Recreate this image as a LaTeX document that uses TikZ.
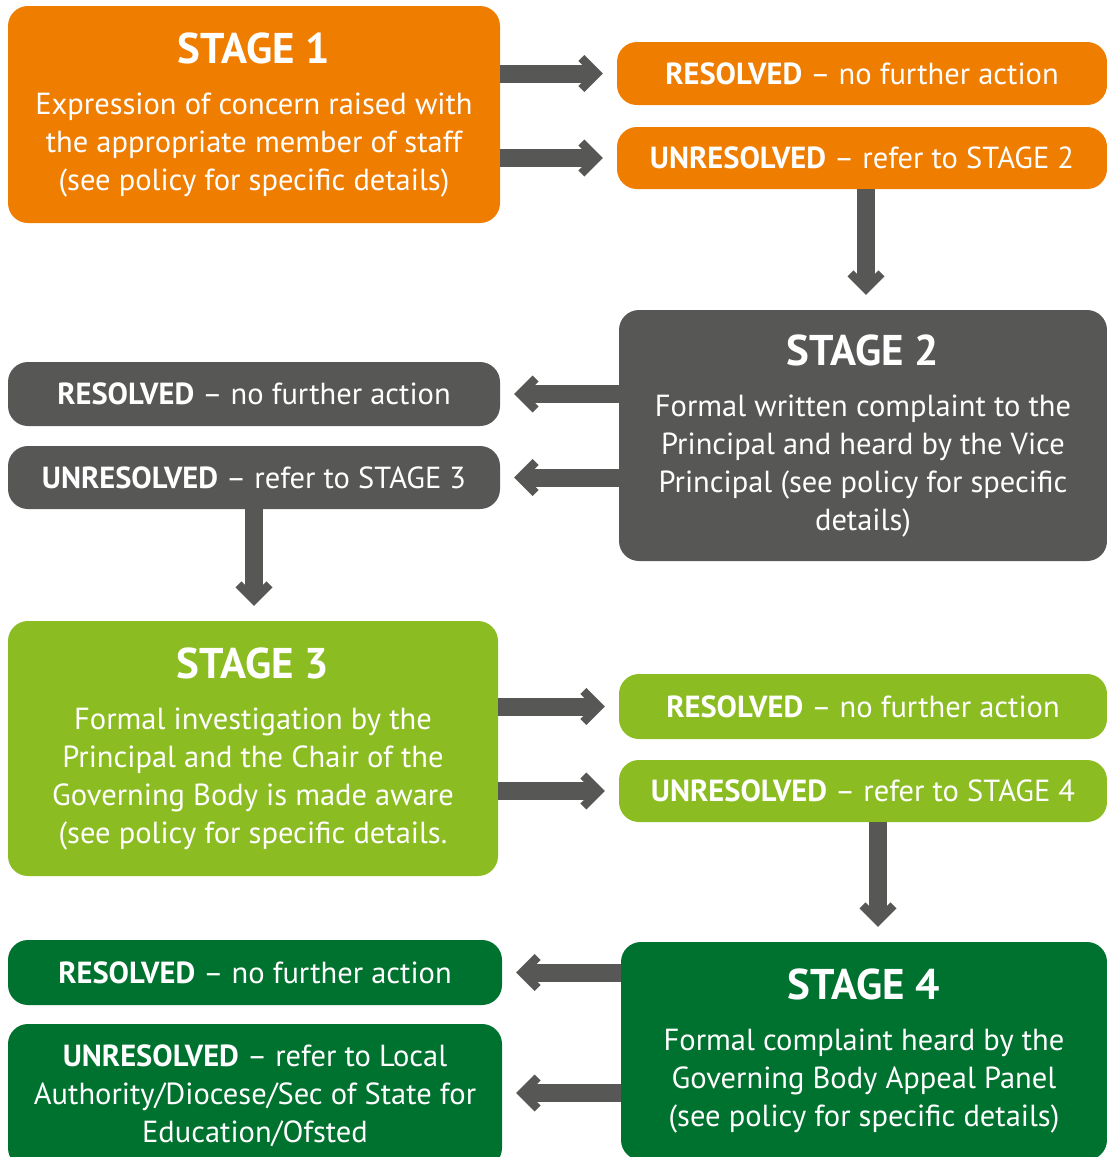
\documentclass[tikz,border=0pt]{standalone}
\usepackage{fontspec}
\setmainfont{PT Sans}
\usetikzlibrary{arrows.meta,positioning}
\definecolor{sorange}{HTML}{EF7D00}
\definecolor{sgrey}{HTML}{575756}
\definecolor{slime}{HTML}{8BBD23}
\definecolor{sgreen}{HTML}{00722F}
\newcommand\bodysize{\fontsize{30.5}{38}\selectfont}
\newcommand\stagesize{\bfseries\fontsize{43}{40}\selectfont}
% thick chevron head for the flow arrows
\pgfdeclarearrow{
  name = Chevron,
  setup code = {
    \pgfarrowssettipend{0pt}
    \pgfarrowssetlineend{-12pt}
    \pgfarrowssetbackend{-24.5pt}
  },
  drawing code = {
    \pgfpathmoveto{\pgfqpoint{0pt}{0pt}}
    \pgfpathlineto{\pgfqpoint{-18.5pt}{18.5pt}}
    \pgfpathlineto{\pgfqpoint{-24.5pt}{12.5pt}}
    \pgfpathlineto{\pgfqpoint{-12pt}{0pt}}
    \pgfpathlineto{\pgfqpoint{-24.5pt}{-12.5pt}}
    \pgfpathlineto{\pgfqpoint{-18.5pt}{-18.5pt}}
    \pgfpathclose
    \pgfusepathqfill
  }
}
\tikzset{
  box/.style={rounded corners=20pt,text=white,align=center,inner sep=0pt,font=\bodysize},
  stagebox/.style={box,minimum width=492pt},
  outbox/.style={box,minimum width=490pt},
  flow/.style={-{Chevron},sgrey,line width=18pt,shorten >=14pt},
}

\begin{document}
\begin{tikzpicture}[x=1pt,y=-1pt]
  \useasboundingbox (0,0) rectangle (1107,1157);
  \clip (0,0) rectangle (1107,1157);
  % stage 1
  \node[stagebox,fill=sorange,minimum height=217pt] (s1) at (254,114.5)
    {{\stagesize STAGE 1}\\[13pt]Expression of concern raised with\\the appropriate member of staff\\(see policy for specific details)};
  \node[outbox,fill=sorange,minimum height=63pt] (r1) at (862,73.5) {\textbf{RESOLVED} -- no further action};
  \node[outbox,fill=sorange,minimum height=62pt] (u1) at (862,158) {\textbf{UNRESOLVED} -- refer to STAGE 2};
  % stage 2
  \node[stagebox,fill=sgrey,minimum height=251pt,minimum width=488pt] (s2) at (863,435.5)
    {{\stagesize STAGE 2}\\[13pt]Formal written complaint to the\\Principal and heard by the Vice\\Principal (see policy for specific\\details)};
  \node[outbox,fill=sgrey,minimum height=64pt,minimum width=492pt] (r2) at (254,394) {\textbf{RESOLVED} -- no further action};
  \node[outbox,fill=sgrey,minimum height=63pt,minimum width=492pt] (u2) at (254,477.5) {\textbf{UNRESOLVED} -- refer to STAGE 3};
  % stage 3
  \node[stagebox,fill=slime,minimum height=255pt,minimum width=490pt] (s3) at (253,748.5)
    {{\stagesize STAGE 3}\\[13pt]Formal investigation by the\\Principal and the Chair of the\\Governing Body is made aware\\(see policy for specific details.};
  \node[outbox,fill=slime,minimum height=65pt,minimum width=488pt] (r3) at (863,706.5) {\textbf{RESOLVED} -- no further action};
  \node[outbox,fill=slime,minimum height=62pt,minimum width=488pt] (u3) at (863,791) {\textbf{UNRESOLVED} -- refer to STAGE 4};
  % stage 4
  \node[stagebox,fill=sgreen,minimum height=218pt,minimum width=486pt] (s4) at (864,1051)
    {{\stagesize STAGE 4}\\[13pt]Formal complaint heard by the\\Governing Body Appeal Panel\\(see policy for specific details)};
  \node[outbox,fill=sgreen,minimum height=65pt,minimum width=494pt] (r4) at (255,972.5) {\textbf{RESOLVED} -- no further action};
  \node[outbox,fill=sgreen,minimum height=144pt,minimum width=494pt] (u4) at (255,1096)
    {\textbf{UNRESOLVED} -- refer to Local\\Authority/Diocese/Sec of State for\\Education/Ofsted};
  % arrows
  \draw[flow] (s1.east |- r1) -- (r1.west);
  \draw[flow] (s1.east |- u1) -- (u1.west);
  \draw[flow,shorten >=15pt] ([xshift=4pt]u1.south) -- ([xshift=4pt]u1.south |- s2.north);
  \draw[flow] (s2.west |- r2) -- (r2.east);
  \draw[flow] (s2.west |- u2) -- (u2.east);
  \draw[flow,shorten >=15pt] (u2.south) -- (u2.south |- s3.north);
  \draw[flow] (s3.east |- r3) -- (r3.west);
  \draw[flow] (s3.east |- u3) -- (u3.west);
  \draw[flow,shorten >=15pt] ([xshift=15pt]u3.south) -- ([xshift=15pt]u3.south |- s4.north);
  \draw[flow] (s4.west |- r4) -- (r4.east);
  \draw[flow] ([yshift=3pt]s4.west |- u4) -- ([yshift=3pt]u4.east);
\end{tikzpicture}
\end{document}
